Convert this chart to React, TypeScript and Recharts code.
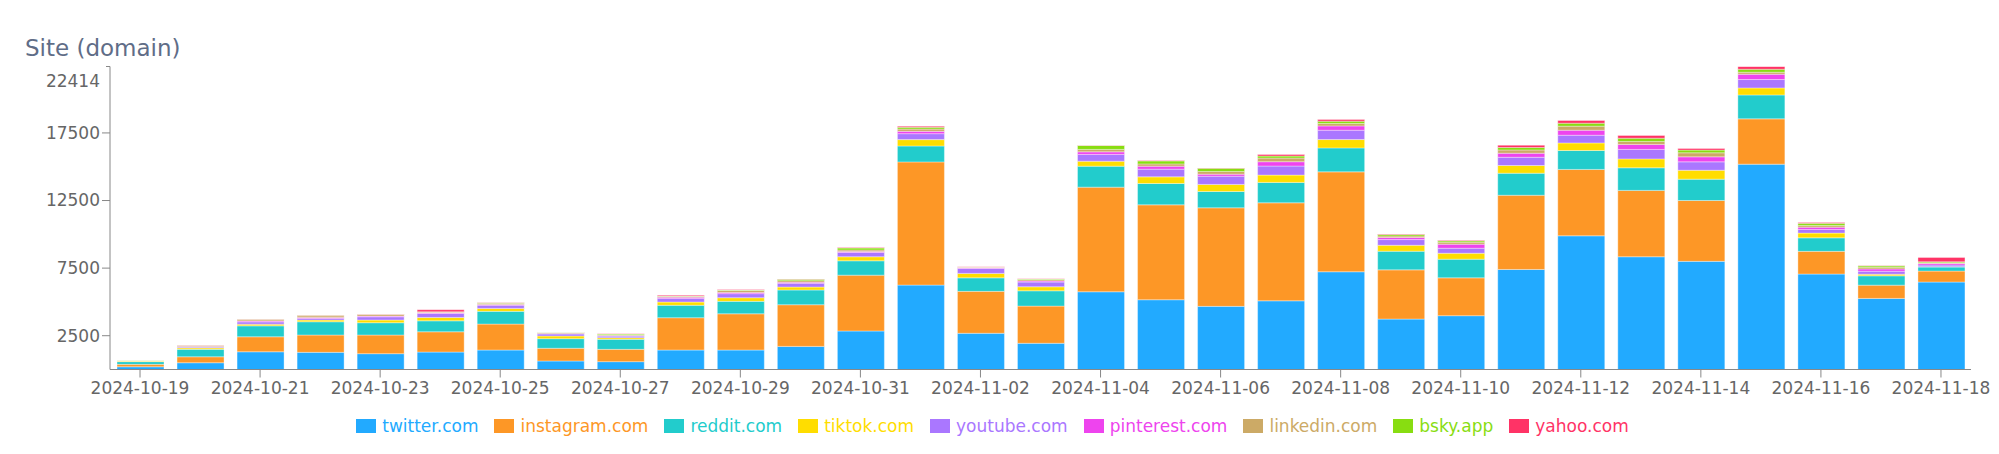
import React from 'react';
import { BarChart, Bar, XAxis, YAxis } from 'recharts';

const dates = [
  '2024-10-19', '2024-10-20', '2024-10-21', '2024-10-22', '2024-10-23', '2024-10-24', '2024-10-25',
  '2024-10-26', '2024-10-27', '2024-10-28', '2024-10-29', '2024-10-30', '2024-10-31', '2024-11-01',
  '2024-11-02', '2024-11-03', '2024-11-04', '2024-11-05', '2024-11-06', '2024-11-07', '2024-11-08',
  '2024-11-09', '2024-11-10', '2024-11-11', '2024-11-12', '2024-11-13', '2024-11-14', '2024-11-15',
  '2024-11-16', '2024-11-17', '2024-11-18',
];

const twitter = [200, 500, 1310, 1270, 1170, 1290, 1440, 630, 580, 1440, 1440, 1710, 2850, 6245, 2680, 1940, 5750, 5160, 4670, 5080, 7230, 3730, 3980, 7400, 9890, 8340, 8000, 15190, 7060, 5260, 6470];
const instagram = [180, 440, 1110, 1280, 1380, 1500, 1920, 940, 910, 2390, 2680, 3080, 4130, 9110, 3100, 2750, 7740, 7020, 7290, 7250, 7390, 3640, 2800, 5490, 4910, 4910, 4500, 3350, 1680, 980, 810];
const reddit = [200, 550, 810, 980, 910, 810, 940, 710, 740, 920, 920, 1090, 1060, 1180, 1000, 1130, 1550, 1580, 1210, 1510, 1770, 1380, 1380, 1630, 1400, 1670, 1580, 1770, 1000, 690, 300];
const tiktok = [40, 110, 125, 125, 200, 250, 220, 200, 120, 240, 270, 220, 300, 470, 330, 300, 370, 490, 520, 540, 620, 440, 440, 570, 560, 660, 660, 520, 350, 120, 30];
const youtube = [30, 70, 170, 125, 240, 300, 230, 150, 120, 270, 300, 280, 320, 440, 370, 350, 500, 570, 610, 670, 690, 420, 370, 610, 570, 700, 620, 620, 270, 220, 120];
const pinterest = [15, 40, 70, 60, 50, 50, 60, 40, 30, 90, 80, 70, 60, 170, 40, 70, 190, 220, 150, 320, 320, 150, 300, 300, 370, 370, 370, 390, 170, 170, 120];
const linkedin = [25, 60, 90, 130, 120, 60, 100, 60, 60, 70, 150, 120, 120, 170, 60, 100, 180, 170, 200, 270, 180, 120, 150, 240, 300, 220, 300, 150, 130, 130, 40];
const bsky = [5, 20, 30, 40, 20, 10, 20, 20, 60, 20, 50, 100, 150, 130, 10, 50, 290, 220, 240, 150, 170, 110, 100, 180, 220, 240, 200, 220, 150, 100, 80];
const yahoo = [5, 20, 15, 15, 10, 150, 30, 10, 20, 60, 30, 20, 40, 80, 10, 20, 20, 30, 20, 110, 120, 40, 50, 170, 200, 200, 120, 204, 70, 30, 320];

const yTicks = [2500, 7500, 12500, 17500, 22414];

// series order = stacking order, bottom first
const SERIES = [
  { key: 'twitter', name: 'twitter.com', color: '#22aaff', values: twitter },
  { key: 'instagram', name: 'instagram.com', color: '#fd9726', values: instagram },
  { key: 'reddit', name: 'reddit.com', color: '#22cccc', values: reddit },
  { key: 'tiktok', name: 'tiktok.com', color: '#ffdd00', values: tiktok },
  { key: 'youtube', name: 'youtube.com', color: '#aa77ff', values: youtube },
  { key: 'pinterest', name: 'pinterest.com', color: '#ee44ee', values: pinterest },
  { key: 'linkedin', name: 'linkedin.com', color: '#ccaa66', values: linkedin },
  { key: 'bsky', name: 'bsky.app', color: '#88dd11', values: bsky },
  { key: 'yahoo', name: 'yahoo.com', color: '#ff3366', values: yahoo },
];

const FONT = '"DejaVu Sans", sans-serif';
const AXIS = '#888';
const TICK_TEXT = '#666';

const chartData = dates.map((date, i) => {
  const row: Record<string, string | number> = { date };
  SERIES.forEach((s) => {
    row[s.key] = s.values[i];
  });
  return row;
});

function YTick({ x, y, payload }: any) {
  const isTop = payload.value === 22414;
  return (
    <g>
      {isTop ? (
        <line x1={x + 6} x2={x + 10} y1={y} y2={y} stroke={AXIS} />
      ) : (
        <line x1={x + 2} x2={x + 10} y1={y} y2={y} stroke={AXIS} />
      )}
      <text
        x={x}
        y={y + (isTop ? 15 : 0)}
        dy="0.35em"
        textAnchor="end"
        fill={TICK_TEXT}
        fontSize={17}
        fontFamily={FONT}
      >
        {payload.value}
      </text>
    </g>
  );
}

export default function App() {
  return (
    <div
      style={{
        position: 'absolute',
        left: 0,
        top: 0,
        width: 1999,
        height: 454,
        background: '#fff',
        fontFamily: FONT,
      }}
    >
      <div
        style={{
          position: 'absolute',
          left: 25,
          top: 35,
          fontSize: 23,
          lineHeight: '26px',
          color: '#5f6d87',
          whiteSpace: 'nowrap',
        }}
      >
        Site (domain)
      </div>

      <BarChart
        width={1999}
        height={454}
        data={chartData}
        margin={{ top: 66.5, right: 28, bottom: 54.5, left: 10 }}
        barSize={47}
      >
        <XAxis
          dataKey="date"
          interval={1}
          height={30}
          tickSize={8}
          tickMargin={4}
          stroke={AXIS}
          tick={{ fill: TICK_TEXT, fontSize: 17, fontFamily: FONT }}
        />
        <YAxis
          width={100}
          domain={[0, 22414]}
          ticks={yTicks}
          tickLine={false}
          tickSize={8}
          tickMargin={2}
          stroke={AXIS}
          allowDataOverflow
          tick={<YTick />}
        />
        {SERIES.map((s) => (
          <Bar
            key={s.key}
            dataKey={s.key}
            name={s.name}
            stackId="site"
            fill={s.color}
            stroke="rgba(255,255,255,0.45)"
            strokeWidth={0.8}
            isAnimationActive={false}
          />
        ))}
      </BarChart>

      {/* legend */}
      <div
        style={{
          position: 'absolute',
          left: 0,
          top: 415,
          width: 1985,
          height: 22,
          display: 'flex',
          justifyContent: 'center',
          alignItems: 'center',
          gap: 16,
          fontSize: 17,
        }}
      >
        {SERIES.map((s) => (
          <div key={s.key} style={{ display: 'flex', alignItems: 'center', gap: 6 }}>
            <span style={{ display: 'inline-block', width: 20, height: 14, background: s.color }} />
            <span style={{ color: s.color, whiteSpace: 'nowrap' }}>{s.name}</span>
          </div>
        ))}
      </div>
    </div>
  );
}
